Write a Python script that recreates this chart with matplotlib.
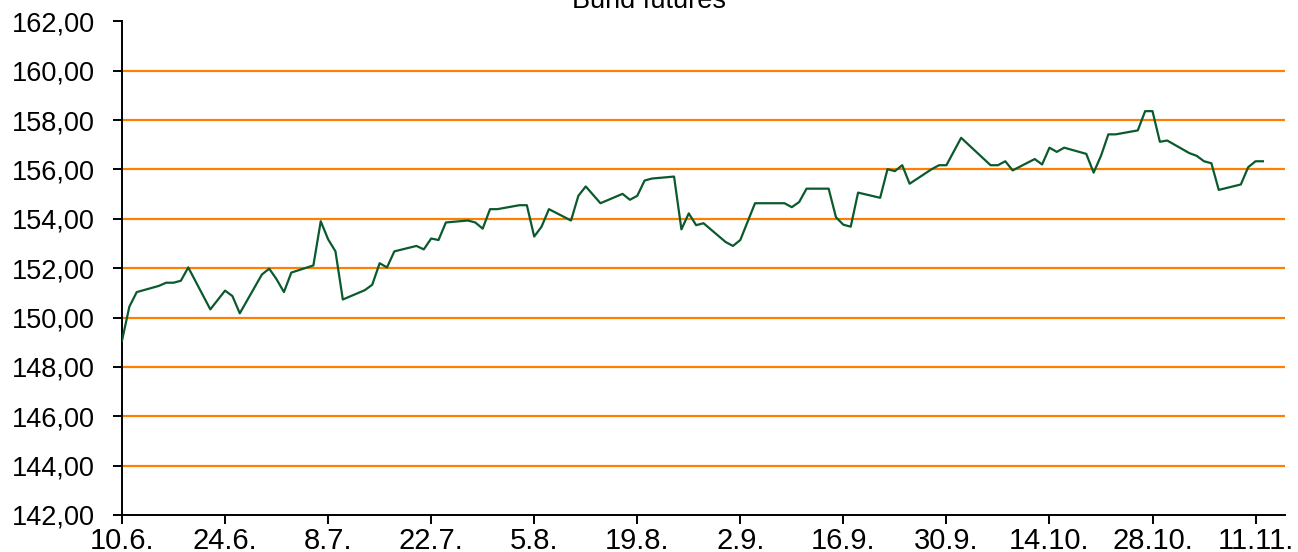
import matplotlib
matplotlib.use("Agg")
import matplotlib.pyplot as plt
import pandas as pd

title = "Bund futures"

dates = [
    "2015-06-10", "2015-06-11", "2015-06-12", "2015-06-15", "2015-06-16", "2015-06-17",
    "2015-06-18", "2015-06-19", "2015-06-22", "2015-06-23", "2015-06-24", "2015-06-25",
    "2015-06-26", "2015-06-29", "2015-06-30", "2015-07-01", "2015-07-02", "2015-07-03",
    "2015-07-06", "2015-07-07", "2015-07-08", "2015-07-09", "2015-07-10", "2015-07-13",
    "2015-07-14", "2015-07-15", "2015-07-16", "2015-07-17", "2015-07-20", "2015-07-21",
    "2015-07-22", "2015-07-23", "2015-07-24", "2015-07-27", "2015-07-28", "2015-07-29",
    "2015-07-30", "2015-07-31", "2015-08-03", "2015-08-04", "2015-08-05", "2015-08-06",
    "2015-08-07", "2015-08-10", "2015-08-11", "2015-08-12", "2015-08-14", "2015-08-17",
    "2015-08-18", "2015-08-19", "2015-08-20", "2015-08-21", "2015-08-24", "2015-08-25",
    "2015-08-26", "2015-08-27", "2015-08-28", "2015-08-31", "2015-09-01", "2015-09-02",
    "2015-09-04", "2015-09-08", "2015-09-09", "2015-09-10", "2015-09-11", "2015-09-14",
    "2015-09-15", "2015-09-16", "2015-09-17", "2015-09-18", "2015-09-21", "2015-09-22",
    "2015-09-23", "2015-09-24", "2015-09-25", "2015-09-28", "2015-09-29", "2015-09-30",
    "2015-10-02", "2015-10-06", "2015-10-07", "2015-10-08", "2015-10-09", "2015-10-12",
    "2015-10-13", "2015-10-14", "2015-10-15", "2015-10-16", "2015-10-19", "2015-10-20",
    "2015-10-21", "2015-10-22", "2015-10-23", "2015-10-26", "2015-10-27", "2015-10-28",
    "2015-10-29", "2015-10-30", "2015-11-02", "2015-11-03", "2015-11-04", "2015-11-05",
    "2015-11-06", "2015-11-09", "2015-11-10", "2015-11-11", "2015-11-12",
]

values = [
    149.06, 150.44, 151.03, 151.28, 151.41, 151.41,
    151.49, 152.03, 150.33, 150.71, 151.09, 150.87,
    150.17, 151.74, 151.98, 151.55, 151.03, 151.82,
    152.11, 153.90, 153.17, 152.68, 150.73, 151.11,
    151.33, 152.20, 152.03, 152.68, 152.90, 152.76,
    153.20, 153.14, 153.85, 153.93, 153.85, 153.60,
    154.39, 154.39, 154.55, 154.55, 153.28, 153.68,
    154.39, 153.93, 154.93, 155.31, 154.63, 155.01,
    154.77, 154.93, 155.55, 155.63, 155.71, 153.57,
    154.22, 153.74, 153.82, 153.06, 152.90, 153.14,
    154.63, 154.63, 154.47, 154.68, 155.22, 155.22,
    154.06, 153.76, 153.68, 155.06, 154.85, 156.01,
    155.93, 156.17, 155.42, 156.01, 156.17, 156.17,
    157.28, 156.17, 156.17, 156.33, 155.96, 156.42,
    156.20, 156.88, 156.71, 156.88, 156.63, 155.87,
    156.55, 157.42, 157.42, 157.58, 158.36, 158.36,
    157.12, 157.17, 156.66, 156.55, 156.33, 156.25,
    155.17, 155.39, 156.09, 156.33, 156.33,
]

tick_dates = ["2015-06-10", "2015-06-24", "2015-07-08", "2015-07-22", "2015-08-05",
              "2015-08-19", "2015-09-02", "2015-09-16", "2015-09-30", "2015-10-14",
              "2015-10-28", "2015-11-11"]
tick_labels = ["10.6.", "24.6.", "8.7.", "22.7.", "5.8.", "19.8.", "2.9.", "16.9.",
               "30.9.", "14.10.", "28.10.", "11.11."]
x_range = ["2015-06-10", "2015-11-15"]
y_ticks = [142, 144, 146, 148, 150, 152, 154, 156, 158, 160, 162]

plt.rcParams['font.family'] = ['Liberation Sans', 'DejaVu Sans']

fig = plt.figure(figsize=(12.98, 5.52), dpi=100)
ax = fig.add_axes([122 / 1298, 1 - 515 / 552, (1285 - 122) / 1298, (515 - 21.3) / 552])

x = pd.to_datetime(dates)
ax.plot(x, values, color="#0b5a2e", linewidth=1.6, zorder=3)

ax.set_xlim(pd.to_datetime(x_range[0]), pd.to_datetime(x_range[1]))
ax.set_ylim(y_ticks[0], y_ticks[-1])

ax.set_xticks(pd.to_datetime(tick_dates))
ax.set_xticklabels(tick_labels)
ax.set_yticks(y_ticks)
ax.set_yticklabels([f"{v:.2f}".replace(".", ",") for v in y_ticks])

for v in y_ticks[1:-1]:
    ax.axhline(v, color="#ff8000", linewidth=1.6, zorder=1)

for s in ["top", "right"]:
    ax.spines[s].set_visible(False)
for s in ["left", "bottom"]:
    ax.spines[s].set_color("black")
    ax.spines[s].set_linewidth(1.4)

ax.tick_params(axis="both", direction="out", length=6.5, width=1.4, color="black",
               labelcolor="black")
ax.tick_params(axis="y", pad=13, labelsize=19.5)
ax.tick_params(axis="x", pad=2, labelsize=21)

fig.text(0.5, 1 - 8 / 552, title, ha="center", va="baseline", fontsize=19.5, color="black")

fig.savefig("out.png", dpi=100)
